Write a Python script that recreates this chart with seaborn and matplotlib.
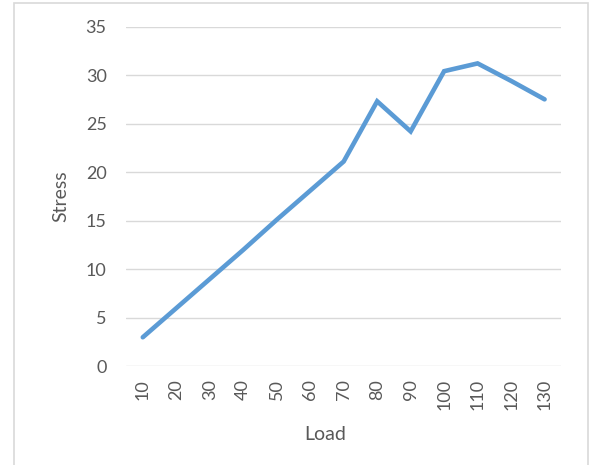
import numpy as np
import pandas as pd
import seaborn as sns
import matplotlib.pyplot as plt
from matplotlib.patches import Rectangle

load = [10, 20, 30, 40, 50, 60, 70, 80, 90, 100, 110, 120, 130]
stress = [3.0, 6.0, 9.0, 12.0, 15.1, 18.1, 21.1, 27.3, 24.2, 30.4, 31.2, 29.4, 27.5]

df = pd.DataFrame({'Load': load, 'Stress': stress})

sns.set_style('white')
plt.rcParams['font.family'] = ['Lato', 'DejaVu Sans']

fig = plt.figure(figsize=(5.89, 4.65), dpi=100)
ax = fig.add_axes([0.214, 0.212, 0.739, 0.731])

sns.lineplot(data=df, x='Load', y='Stress', color='#5B9BD5', linewidth=3.3,
             solid_capstyle='round', solid_joinstyle='miter', ax=ax)

ax.set_xlim(5, 135)
ax.set_ylim(0, 35)
ax.set_yticks(range(0, 36, 5))
ax.set_xticks(load)
ax.set_xticklabels([str(v) for v in load], rotation=90)
ax.grid(axis='y', color='#D9D9D9', linewidth=1.0)
ax.set_axisbelow(True)
for s in ax.spines.values():
    s.set_visible(False)
ax.tick_params(axis='both', length=0, labelsize=13, colors='#595959')
ax.tick_params(axis='y', pad=14)
ax.tick_params(axis='x', pad=9)

ax.set_xlabel('Load', fontsize=14, color='#595959')
ax.set_ylabel('Stress', fontsize=14, color='#595959')
ax.xaxis.set_label_coords(0.457, -0.175)
ax.yaxis.set_label_coords(-0.13, 0.5)

# chart area border
fig.patches.append(Rectangle((14 / 589, -0.05), 573.5 / 589, 1 - 3 / 465 + 0.05,
                             transform=fig.transFigure, fill=False,
                             edgecolor='#D9D9D9', linewidth=1.2))

fig.savefig('out.png', dpi=100)
